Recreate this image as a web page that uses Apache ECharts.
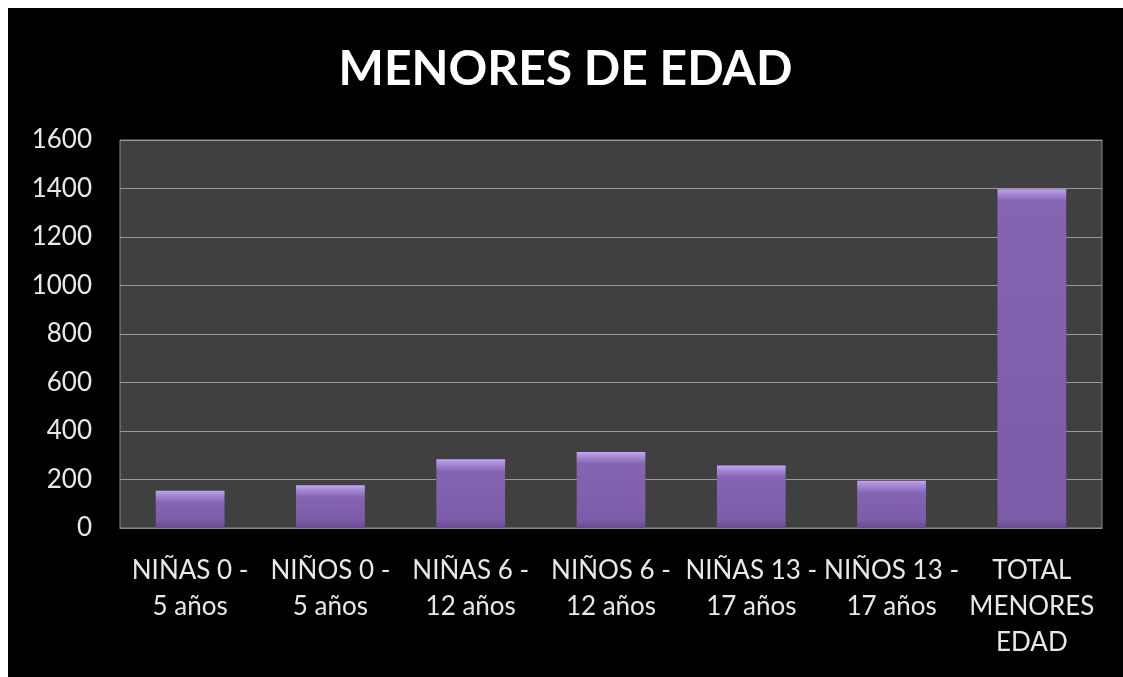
<!DOCTYPE html>
<html>
<head>
<meta charset="utf-8">
<script src="https://cdn.jsdelivr.net/npm/echarts@6/dist/echarts.min.js"></script>
<style>
  html, body { margin: 0; padding: 0; background: #ffffff; }
  #main { position: absolute; left: 8px; top: 8px; width: 1115px; height: 669px; background: #000000; }
</style>
</head>
<body>
<div id="main"></div>
<script>
// categorías y valores
const categories = [
  'NIÑAS 0 -\n5 años',
  'NIÑOS 0 -\n5 años',
  'NIÑAS 6 -\n12 años',
  'NIÑOS 6 -\n12 años',
  'NIÑAS 13 -\n17 años',
  'NIÑOS 13 -\n17 años',
  'TOTAL\nMENORES\nEDAD'
];
const values = [154, 176, 283, 313, 258, 195, 1397];
const yTicks = { min: 0, max: 1600, interval: 200 };

const chart = echarts.init(document.getElementById('main'), null, { renderer: 'canvas' });

// altura del área de trazado en px, para que el bisel tenga tamaño fijo
const plotHeight = 388;

function bevel(v) {
  const h = v / yTicks.max * plotHeight;
  const a = Math.min(3 / h, 0.2);
  const b = Math.min(12 / h, 0.4);
  const c = 1 - Math.min(8 / h, 0.3);
  return new echarts.graphic.LinearGradient(0, 0, 0, 1, [
    { offset: 0, color: '#c4a6f2' },
    { offset: a, color: '#b091e2' },
    { offset: b, color: '#8565b2' },
    { offset: c, color: '#7c5ca8' },
    { offset: 1, color: '#664a92' }
  ]);
}

const option = {
  backgroundColor: '#000000',
  title: {
    text: 'MENORES DE EDAD',
    left: 'center',
    top: 33,
    textStyle: {
      color: '#ffffff',
      fontFamily: 'Lato',
      fontWeight: 'bold',
      fontSize: 48
    }
  },
  grid: {
    left: 112,
    right: 21,
    top: 132,
    bottom: 149,
    show: true,
    backgroundColor: '#404040',
    borderColor: '#8a8a8a',
    borderWidth: 1
  },
  xAxis: {
    type: 'category',
    data: categories,
    axisLine: { show: true, lineStyle: { color: '#8a8a8a' } },
    axisTick: { show: false },
    axisLabel: {
      color: '#e8e8e8',
      fontFamily: 'Lato',
      fontSize: 26,
      lineHeight: 36,
      margin: 25,
      interval: 0
    }
  },
  yAxis: {
    type: 'value',
    min: yTicks.min,
    max: yTicks.max,
    interval: yTicks.interval,
    axisLine: { show: false },
    axisTick: { show: false },
    splitLine: { lineStyle: { color: '#9a9a9a', width: 1 } },
    axisLabel: {
      color: '#e8e8e8',
      fontFamily: 'Lato',
      fontSize: 26,
      margin: 28,
      formatter: v => String(v)
    }
  },
  series: [{
    type: 'bar',
    data: values.map(v => ({ value: v, itemStyle: { color: bevel(v) } })),
    barWidth: '49%',
    itemStyle: {
      shadowColor: 'rgba(0,0,0,0.6)',
      shadowBlur: 4,
      shadowOffsetX: 1
    }
  }]
};

chart.setOption(option);
</script>
</body>
</html>
